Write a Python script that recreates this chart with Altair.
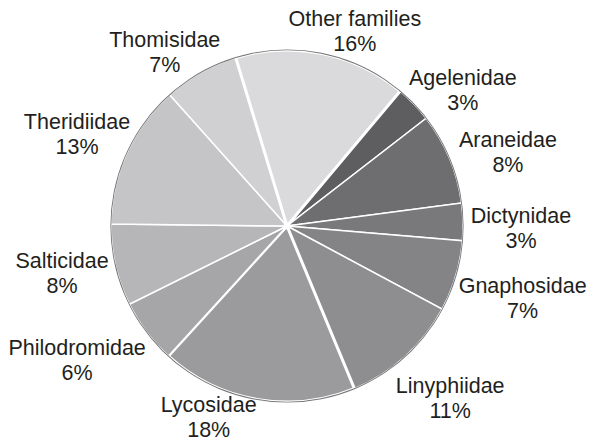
import math
import altair as alt
import pandas as pd

# ---------------- data ----------------
families = ["Agelenidae", "Araneidae", "Dictynidae", "Gnaphosidae", "Linyphiidae",
            "Lycosidae", "Philodromidae", "Salticidae", "Theridiidae", "Thomisidae",
            "Other families"]
shares = [3.4, 8.4, 3.4, 6.5, 10.9, 18.0, 5.9, 7.5, 13.2, 6.9, 15.8]
percent_labels = ["3%", "8%", "3%", "7%", "11%", "18%", "6%", "8%", "13%", "7%", "16%"]

# ---------------- style / layout ----------------
grays = ["#5e5e60", "#6e6e70", "#79797b", "#848486", "#8e8e90", "#9b9b9d",
         "#a6a6a8", "#b6b6b8", "#c5c5c7", "#d0d0d2", "#dadadc"]
gap_width = {"Lycosidae": 3.0, "Other families": 3.0}
START_DEG = 40.0
CX, CY, R = 279, 218, 176
label_nudge_deg = [5.1, 2.9, 0.6, -0.6, -2.2, 12.9, 5.4, 2.3, 0.4, -5.0, 7.2]
label_radius = [225.5, 234.7, 234.0, 245.0, 233.4, 202.0, 246.5, 228.9, 231.3, 216.6, 211.2]

total = sum(shares)
start_rad = math.radians(START_DEG)
theta_scale = alt.Scale(domain=[0, total], range=[start_rad, start_rad + 2 * math.pi])

df = pd.DataFrame({
    "family": families,
    "share": shares,
    "idx": list(range(len(families))),
    "sw": [gap_width.get(f, 1.5) for f in families],
})

# label positions: middle of each slice (from the data) plus a small layout nudge
cum = 0.0
lpos = []
for s, nd in zip(shares, label_nudge_deg):
    lpos.append(cum + s / 2 + nd * total / 360.0)
    cum += s
label_df = pd.DataFrame({
    "label": [f + "\n" + p for f, p in zip(families, percent_labels)],
    "lpos": lpos,
    "lr": label_radius,
})

arcs = alt.Chart(df).mark_arc(radius=R, stroke="white").encode(
    theta=alt.Theta("share:Q", stack=True, scale=theta_scale),
    order=alt.Order("idx:Q"),
    color=alt.Color("family:N", scale=alt.Scale(domain=families, range=grays), legend=None),
    strokeWidth=alt.StrokeWidth("sw:Q", scale=None),
    x=alt.value(CX),
    y=alt.value(CY),
)

one = pd.DataFrame({"k": [0]})
ring = alt.Chart(one).mark_arc(
    theta=0, theta2=2 * math.pi, radius=R + 0.6, radius2=R - 0.3
).encode(color=alt.value("#767676"), x=alt.value(CX), y=alt.value(CY))

dot = alt.Chart(one).mark_arc(
    theta=0, theta2=2 * math.pi, radius=3.5
).encode(color=alt.value("white"), x=alt.value(CX), y=alt.value(CY))

labels = alt.Chart(label_df).mark_text(
    font="Liberation Sans", fontSize=21.5, lineHeight=25, lineBreak="\n",
    align="center", baseline="alphabetic", color="#231f20"
).encode(
    theta=alt.Theta("lpos:Q", scale=theta_scale, stack=None),
    radius=alt.Radius("lr:Q", scale=None),
    text="label:N",
    x=alt.value(CX),
    y=alt.value(CY),
)

chart = alt.layer(arcs, ring, dot, labels).properties(
    width=579, height=437,
    autosize=alt.AutoSizeParams(type="none"),
    padding=0,
).configure_view(stroke=None)

chart.save("out.html", embed_options={"renderer": "svg", "actions": False})
